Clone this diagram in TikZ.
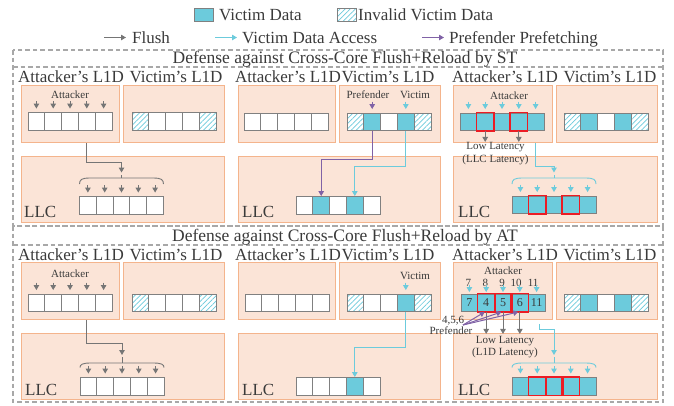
\documentclass[tikz,border=0pt]{standalone}
\usepackage{fontspec}
\setmainfont{Liberation Serif}
\usetikzlibrary{arrows.meta,patterns.meta,calc}

\definecolor{panelfill}{HTML}{FBE4D7}
\definecolor{paneldraw}{HTML}{F4B48C}
\definecolor{vdata}{HTML}{6CCBDC}
\definecolor{cellgray}{HTML}{808080}
\definecolor{flushgray}{HTML}{757575}
\definecolor{prefpurple}{HTML}{8062A6}
\definecolor{hitred}{HTML}{EC1C24}
\definecolor{dashgray}{HTML}{A8A8A8}
\definecolor{txt}{HTML}{3A3A3A}

\tikzset{
  panel/.style={fill=panelfill, draw=paneldraw, line width=1.1pt, inner sep=0pt, anchor=north west},
  dframe/.style={draw=dashgray, line width=1.1pt, dash pattern=on 4.5pt off 3pt},
  cell/.style={draw=cellgray, line width=0.9pt, fill=white, minimum width=16.8pt, minimum height=17.5pt, inner sep=0pt, font=\fontsize{12}{12}\selectfont, text=txt},
  plain/.style={},
  victim/.style={fill=vdata},
  hatch/.style={preaction={fill=white}, pattern={Lines[angle=45,distance=3.6pt,line width=0.7pt]}, pattern color=vdata},
  redbox/.style={draw=hitred, line width=1.3pt},
  keybox/.style={draw=cellgray, line width=0.8pt, minimum width=19pt, minimum height=13pt, inner sep=0pt},
  arr/.style={-{Triangle[width=5.5pt,length=5pt]}, line width=1pt},
  flusharr/.style={arr, draw=flushgray},
  accarr/.style={arr, draw=vdata},
  prefarr/.style={arr, draw=prefpurple},
  llcbrace/.style={line width=0.9pt},
  ttl/.style={font=\fontsize{17}{19}\selectfont, text=txt, inner sep=0pt},
  lbl/.style={font=\fontsize{11}{12}\selectfont, text=txt, inner sep=0pt},
}

\begin{document}
\begin{tikzpicture}[x=1pt,y=-1pt]
\useasboundingbox (0,0) rectangle (674,405);

%%%%%%%%%%%%%%%%%%%%%%%%
% legend
%%%%%%%%%%%%%%%%%%%%%%%%

\node[keybox,fill=vdata] (kv) at (203.5,15) {};
\node[ttl,anchor=base west] (kvt) at (219,20.5) {Victim Data};
\node[keybox,hatch] (kh) at (346.5,15) {};
\node[ttl,anchor=base west] (kht) at (358,20.5) {Invalid Victim Data};

\coordinate (kf0) at (104,37.5);
\coordinate (kf1) at (126,37.5);
\coordinate (ka0) at (215,37.5);
\coordinate (ka1) at (237,37.5);
\coordinate (kp0) at (422,37.5);
\coordinate (kp1) at (444,37.5);
\draw[flusharr] (kf0) -- (kf1);
\draw[accarr] (ka0) -- (ka1);
\draw[prefarr] (kp0) -- (kp1);
\node[ttl,anchor=base west] (kft) at (132,43) {Flush};
\node[ttl,anchor=base west] (kat) at (242,43) {Victim Data Access};
\node[ttl,anchor=base west] (kpt) at (449,43) {Prefender Prefetching};

%%%%%%%%%%%%%%%%%%%%%%%%
% frames
%%%%%%%%%%%%%%%%%%%%%%%%

\draw[dframe] (13,50) rectangle (663,226);
\draw[dframe] (13,67) -- (663,67);
\draw[dframe] (13,226) rectangle (663,402);
\draw[dframe] (13,245) -- (663,245);

\node[ttl,font=\fontsize{17.5}{19}\selectfont,anchor=base] (titleST) at (345,63.5) {Defense against Cross-Core Flush+Reload by ST};
\node[ttl,font=\fontsize{17.5}{19}\selectfont,anchor=base] (titleAT) at (345,241.5) {Defense against Cross-Core Flush+Reload by AT};

\foreach \y in {77,255} {
  \node[ttl] at (71,\y) {Attacker's L1D};
  \node[ttl] at (176,\y) {Victim's L1D};
  \node[ttl] at (288,\y) {Attacker's L1D};
  \node[ttl] at (388,\y) {Victim's L1D};
  \node[ttl] at (505,\y) {Attacker's L1D};
  \node[ttl] at (610,\y) {Victim's L1D};
}

%%%%%%%%%%%%%%%%%%%%%%%%
% ST, plain Flush
%%%%%%%%%%%%%%%%%%%%%%%%

\node[panel,minimum width=98pt,minimum height=57pt] (A1) at (21,85) {};
\node[panel,minimum width=101pt,minimum height=57pt] (V1) at (123,85) {};
\node[panel,minimum width=203pt,minimum height=66pt] (L1) at (21,156) {};
\node[ttl,anchor=base west] (llc1) at (24,217.5) {LLC};

\foreach \s [count=\i] in {plain,plain,plain,plain,plain}
  \node[cell,\s] (a1-\i) at ({28+16.8*\i-8.4},121.25) {};
\foreach \s [count=\i] in {hatch,plain,plain,plain,hatch}
  \node[cell,\s] (v1-\i) at ({132+16.8*\i-8.4},121.25) {};
\foreach \s [count=\i] in {plain,plain,plain,plain,plain}
  \node[cell,\s] (l1-\i) at ({79.5+16.8*\i-8.4},205.25) {};

\node[lbl] (atk1) at (70,94.5) {Attacker};
\foreach \i in {1,...,5} {
  \draw[flusharr] ([yshift=11pt]a1-\i.north) -- ([yshift=3.5pt]a1-\i.north);
  \draw[flusharr] ([yshift=11pt]l1-\i.north) -- ([yshift=3.5pt]l1-\i.north);
}
\draw[llcbrace,draw=flushgray] (79.5,184) .. controls (79.5,179.5) and (82,178) .. (90,178) -- (153,178) .. controls (161,178) and (163.5,179.5) .. (163.5,184);
\draw[llcbrace,draw=flushgray] (121.5,178) -- (121.5,174.5);
\coordinate (br1) at (121.5,172.5);
\draw[flusharr] (a1-4 |- A1.south) -- ++(0,19) -| (br1);

%%%%%%%%%%%%%%%%%%%%%%%%
% ST, Prefender prefetches
%%%%%%%%%%%%%%%%%%%%%%%%

\node[panel,minimum width=97pt,minimum height=57pt] (A2) at (238,85) {};
\node[panel,minimum width=101pt,minimum height=57pt] (V2) at (339,85) {};
\node[panel,minimum width=202pt,minimum height=66pt] (L2) at (238,156) {};
\node[ttl,anchor=base west] (llc2) at (242,217.5) {LLC};

\foreach \s [count=\i] in {plain,plain,plain,plain,plain}
  \node[cell,\s] (a2-\i) at ({244+16.8*\i-8.4},121.75) {};
\foreach \s [count=\i] in {hatch,victim,plain,victim,hatch}
  \node[cell,\s] (v2-\i) at ({347+16.8*\i-8.4},121.75) {};
\foreach \s [count=\i] in {plain,victim,plain,victim,plain}
  \node[cell,\s] (l2-\i) at ({296+16.8*\i-8.4},205.25) {};

\node[lbl] (pf2) at (368,94.5) {Prefender};
\node[lbl] (vc2) at (415,94.5) {Victim};
\draw[prefarr] ([yshift=11pt]v2-2.north) -- ([yshift=3.5pt]v2-2.north);
\draw[accarr] ([yshift=11pt]v2-4.north) -- ([yshift=3.5pt]v2-4.north);
\draw[prefarr] (v2-2.south) -- ++(0,29) -| (l2-2.north);
\draw[accarr] (v2-4.south) -- ++(0,36) -| (l2-4.north);

%%%%%%%%%%%%%%%%%%%%%%%%
% ST, Reload hits
%%%%%%%%%%%%%%%%%%%%%%%%

\node[panel,minimum width=99pt,minimum height=57pt] (A3) at (453,85) {};
\node[panel,minimum width=101pt,minimum height=57pt] (V3) at (556,85) {};
\node[panel,minimum width=204pt,minimum height=66pt] (L3) at (453,156) {};
\node[ttl,anchor=base west] (llc3) at (458,217.5) {LLC};

\foreach \s [count=\i] in {victim,victim,victim,victim,victim}
  \node[cell,\s] (a3-\i) at ({460+16.8*\i-8.4},121.75) {};
\foreach \s [count=\i] in {hatch,victim,plain,victim,hatch}
  \node[cell,\s] (v3-\i) at ({564+16.8*\i-8.4},121.75) {};
\foreach \s [count=\i] in {victim,victim,victim,victim,victim}
  \node[cell,\s] (l3-\i) at ({512+16.8*\i-8.4},204.75) {};
\foreach \i in {2,4} {
  \draw[redbox] (a3-\i.south west) rectangle (a3-\i.north east);
  \draw[redbox] (l3-\i.south west) rectangle (l3-\i.north east);
}

\node[lbl] (atk3) at (509,96) {Attacker};
\foreach \i in {1,...,5} {
  \draw[accarr] ([yshift=11pt]a3-\i.north) -- ([yshift=3.5pt]a3-\i.north);
  \draw[accarr] ([yshift=11pt]l3-\i.north) -- ([yshift=3.5pt]l3-\i.north);
}
\foreach \i in {2,4}
  \draw[flusharr] (a3-\i.south) -- ++(0,11);
\node[lbl] (lat3) at (495.5,147.5) {Low Latency};
\node[lbl] (llt3) at (495.5,159.5) {(LLC Latency)};

\draw[llcbrace,draw=vdata] (512,184) .. controls (512,179.5) and (514.5,178) .. (522.5,178) -- (585.5,178) .. controls (593.5,178) and (596,179.5) .. (596,184);
\draw[llcbrace,draw=vdata] (554,178) -- (554,174.5);
\coordinate (br3) at (554,172.5);
\draw[accarr] (a3-5 |- A3.south) -- ++(0,23) -| (br3);

%%%%%%%%%%%%%%%%%%%%%%%%
% AT, plain Flush
%%%%%%%%%%%%%%%%%%%%%%%%

\node[panel,minimum width=98pt,minimum height=57pt] (A4) at (21,262) {};
\node[panel,minimum width=101pt,minimum height=57pt] (V4) at (123,262) {};
\node[panel,minimum width=203pt,minimum height=66pt] (L4) at (21,333) {};
\node[ttl,anchor=base west] (llc4) at (25,395) {LLC};

\foreach \s [count=\i] in {plain,plain,plain,plain,plain}
  \node[cell,\s] (a4-\i) at ({28+16.8*\i-8.4},302.75) {};
\foreach \s [count=\i] in {hatch,plain,plain,plain,hatch}
  \node[cell,\s] (v4-\i) at ({132+16.8*\i-8.4},302.75) {};
\foreach \s [count=\i] in {plain,plain,plain,plain,plain}
  \node[cell,\s] (l4-\i) at ({80+16.8*\i-8.4},386.25) {};

\node[lbl] (atk4) at (70,273.5) {Attacker};
\foreach \i in {1,...,5} {
  \draw[flusharr] ([yshift=11pt]a4-\i.north) -- ([yshift=3.5pt]a4-\i.north);
  \draw[flusharr] ([yshift=11pt]l4-\i.north) -- ([yshift=3.5pt]l4-\i.north);
}
\draw[llcbrace,draw=flushgray] (80,367.5) .. controls (80,364.5) and (82.5,363) .. (90.5,363) -- (153.5,363) .. controls (161.5,363) and (164,364.5) .. (164,367.5);
\draw[llcbrace,draw=flushgray] (122,363) -- (122,357);
\coordinate (br4) at (122,355);
\draw[flusharr] (a4-4 |- A4.south) -- ++(0,23) -| (br4);

%%%%%%%%%%%%%%%%%%%%%%%%
% AT, victim access
%%%%%%%%%%%%%%%%%%%%%%%%

\node[panel,minimum width=97pt,minimum height=57pt] (A5) at (238,262) {};
\node[panel,minimum width=101pt,minimum height=57pt] (V5) at (339,262) {};
\node[panel,minimum width=202pt,minimum height=66pt] (L5) at (238,333) {};
\node[ttl,anchor=base west] (llc5) at (242,395) {LLC};

\foreach \s [count=\i] in {plain,plain,plain,plain,plain}
  \node[cell,\s] (a5-\i) at ({245+16.8*\i-8.4},302.75) {};
\foreach \s [count=\i] in {hatch,plain,plain,victim,hatch}
  \node[cell,\s] (v5-\i) at ({347+16.8*\i-8.4},302.75) {};
\foreach \s [count=\i] in {plain,plain,plain,victim,plain}
  \node[cell,\s] (l5-\i) at ({296+16.8*\i-8.4},386.25) {};

\node[lbl] (vc5) at (415,275.5) {Victim};
\draw[accarr] ([yshift=11pt]v5-4.north) -- ([yshift=3.5pt]v5-4.north);
\draw[accarr] (v5-4.south) -- ++(0,36) -| (l5-4.north);

%%%%%%%%%%%%%%%%%%%%%%%%
% AT, Prefender loads 4,5,6
%%%%%%%%%%%%%%%%%%%%%%%%

\node[panel,minimum width=99pt,minimum height=57pt] (A6) at (453,262) {};
\node[panel,minimum width=101pt,minimum height=57pt] (V6) at (556,262) {};
\node[panel,minimum width=204pt,minimum height=66pt] (L6) at (453,333) {};
\node[ttl,anchor=base west] (llc6) at (458,395) {LLC};

\foreach \s/\t [count=\i] in {victim/7,victim/4,victim/5,victim/6,victim/11}
  \node[cell,\s] (a6-\i) at ({461+16.8*\i-8.4},302.75) {\t};
\foreach \s [count=\i] in {hatch,victim,plain,victim,hatch}
  \node[cell,\s] (v6-\i) at ({564+16.8*\i-8.4},302.75) {};
\foreach \s [count=\i] in {victim,victim,victim,victim,victim}
  \node[cell,\s] (l6-\i) at ({512+16.8*\i-8.4},386.25) {};
\foreach \i in {2,3,4} {
  \draw[redbox] (a6-\i.south west) rectangle (a6-\i.north east);
  \draw[redbox] (l6-\i.south west) rectangle (l6-\i.north east);
}

\node[lbl] (atk6) at (503,270.5) {Attacker};
\foreach \t [count=\i] in {7,8,9,10,11} {
  \node[lbl,anchor=east] (n\i) at ([xshift=2pt,yshift=11pt]a6-\i.north) {\t};
  \draw[accarr] ([yshift=9pt]a6-\i.north) -- ([yshift=1.5pt]a6-\i.north);
  \draw[accarr] ([yshift=11pt]l6-\i.north) -- ([yshift=3.5pt]l6-\i.north);
}

\node[lbl] (ids6) at (453,321) {4,5,6};
\node[lbl] (pf6) at (451,331) {Prefender};
\coordinate (pf) at (463,325);
\foreach \i in {2,3,4} {
  \draw[flusharr] (a6-\i.south) -- ++(0,22);
  \draw[prefarr] (pf) -- ([xshift=-1.5pt]a6-\i.south);
}
\node[lbl] (lat6) at (505,341) {Low Latency};
\node[lbl] (llt6) at (505,353) {(L1D Latency)};

\draw[llcbrace,draw=vdata] (512,367.5) .. controls (512,364.5) and (514.5,363) .. (522.5,363) -- (585.5,363) .. controls (593.5,363) and (596,364.5) .. (596,367.5);
\draw[llcbrace,draw=vdata] (554,363) -- (554,357);
\coordinate (c6) at ($(a6-5 |- A6.south)+(3,4)$);
\coordinate (br6) at (554,355);
\draw[accarr] (c6) -- ++(0,5) -| (br6);

\end{tikzpicture}
\end{document}
